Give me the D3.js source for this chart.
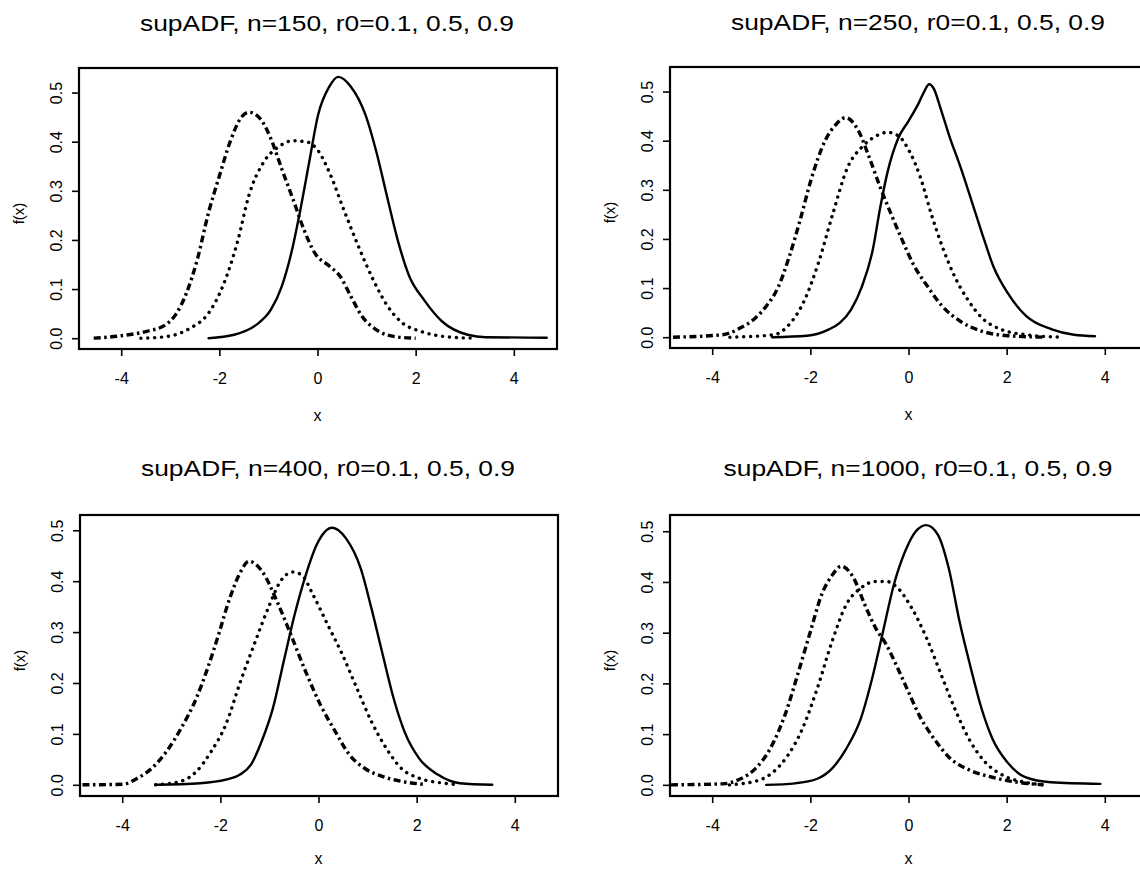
<!DOCTYPE html>
<html>
<head>
<meta charset="utf-8">
<script src="https://cdn.jsdelivr.net/npm/d3@7"></script>
<style>
  body { margin: 0; background: #fff; }
  svg { display: block; font-family: "Liberation Sans", Arial, Helvetica, sans-serif; }
</style>
</head>
<body>
<div id="chart"></div>
<script>
// tick values shared by all four panels
const xTicks = [-4, -2, 0, 2, 4];
const yTicks = [0, 0.1, 0.2, 0.3, 0.4, 0.5];
const titles = [
  "supADF, n=150, r0=0.1, 0.5, 0.9",
  "supADF, n=250, r0=0.1, 0.5, 0.9",
  "supADF, n=400, r0=0.1, 0.5, 0.9",
  "supADF, n=1000, r0=0.1, 0.5, 0.9"
];
const yMax = [0.55, 0.55, 0.53, 0.532];

// densities: [x, f(x)]
// n=150
const n150Solid = [[-2.22,0],[-1.7,0.007],[-1.25,0.027],[-0.95,0.058],[-0.73,0.105],[-0.5,0.188],[-0.36,0.256],[-0.17,0.358],[0.01,0.454],[0.24,0.512],[0.42,0.532],[0.68,0.512],[0.98,0.454],[1.2,0.379],[1.43,0.283],[1.65,0.194],[1.87,0.126],[2.17,0.078],[2.54,0.034],[3.06,0.007],[3.43,0.002],[4.67,0.001]];
const n150Dotted = [[-3.6,0],[-3.1,0.003],[-2.6,0.02],[-2.22,0.051],[-1.93,0.106],[-1.62,0.2],[-1.4,0.29],[-1.1,0.358],[-0.8,0.389],[-0.5,0.402],[-0.2,0.399],[0.01,0.382],[0.24,0.338],[0.53,0.263],[0.83,0.188],[1.13,0.12],[1.43,0.065],[1.73,0.031],[2.1,0.014],[2.62,0.003],[3.2,0]];
const n150DashDot = [[-4.56,0],[-4.0,0.005],[-3.48,0.014],[-3.1,0.027],[-2.89,0.048],[-2.67,0.092],[-2.45,0.16],[-2.22,0.256],[-2.0,0.33],[-1.78,0.4],[-1.55,0.45],[-1.4,0.46],[-1.17,0.447],[-0.95,0.406],[-0.73,0.345],[-0.5,0.283],[-0.28,0.222],[-0.06,0.174],[0.24,0.147],[0.46,0.126],[0.68,0.085],[0.91,0.044],[1.2,0.017],[1.58,0.003],[2.0,0]];
// n=250
const n250Solid = [[-2.78,0],[-2.07,0.003],[-1.62,0.016],[-1.4,0.029],[-1.17,0.056],[-0.95,0.103],[-0.73,0.177],[-0.58,0.262],[-0.43,0.335],[-0.21,0.405],[0.0,0.44],[0.2,0.475],[0.32,0.5],[0.42,0.515],[0.52,0.505],[0.64,0.47],[0.83,0.41],[1.06,0.346],[1.28,0.279],[1.5,0.211],[1.73,0.144],[2.02,0.09],[2.4,0.043],[2.92,0.016],[3.37,0.005],[3.8,0.002]];
const n250Dotted = [[-3.64,0],[-2.74,0.005],[-2.43,0.026],[-2.13,0.073],[-1.84,0.15],[-1.54,0.252],[-1.24,0.346],[-0.95,0.387],[-0.65,0.41],[-0.43,0.417],[-0.21,0.41],[0.01,0.38],[0.24,0.326],[0.46,0.252],[0.69,0.184],[0.91,0.13],[1.21,0.076],[1.5,0.039],[1.88,0.016],[2.4,0.005],[3.15,0]];
const n250DashDot = [[-4.8,0],[-3.79,0.005],[-3.42,0.019],[-3.12,0.039],[-2.9,0.063],[-2.65,0.103],[-2.43,0.164],[-2.21,0.238],[-1.99,0.319],[-1.7,0.4],[-1.47,0.434],[-1.28,0.447],[-1.02,0.42],[-0.8,0.366],[-0.58,0.306],[-0.36,0.252],[-0.13,0.198],[0.09,0.15],[0.39,0.103],[0.69,0.063],[1.06,0.032],[1.5,0.012],[2.03,0.003],[2.78,0]];
// n=400
const n400Solid = [[-3.32,0],[-2.41,0.003],[-1.89,0.01],[-1.6,0.02],[-1.38,0.039],[-1.16,0.085],[-0.93,0.15],[-0.71,0.242],[-0.49,0.333],[-0.26,0.412],[-0.04,0.471],[0.28,0.505],[0.56,0.484],[0.86,0.425],[1.08,0.346],[1.31,0.255],[1.53,0.17],[1.75,0.105],[2.05,0.052],[2.43,0.02],[2.88,0.003],[3.54,0]];
const n400Dotted = [[-3.32,0],[-2.8,0.007],[-2.49,0.026],[-2.19,0.065],[-1.89,0.118],[-1.59,0.203],[-1.29,0.281],[-1.0,0.353],[-0.78,0.399],[-0.52,0.418],[-0.34,0.412],[-0.11,0.373],[0.19,0.314],[0.49,0.255],[0.78,0.19],[1.08,0.124],[1.38,0.072],[1.68,0.033],[2.05,0.013],[2.57,0.003],[2.87,0]];
const n400DashDot = [[-4.81,0],[-3.99,0.001],[-3.69,0.013],[-3.39,0.033],[-3.1,0.065],[-2.8,0.111],[-2.49,0.17],[-2.26,0.229],[-2.04,0.294],[-1.81,0.366],[-1.59,0.418],[-1.42,0.439],[-1.14,0.418],[-0.84,0.359],[-0.56,0.294],[-0.26,0.222],[0.04,0.157],[0.34,0.105],[0.63,0.059],[0.93,0.033],[1.31,0.016],[1.68,0.007],[2.13,0.001]];
// n=1000
const n1000Solid = [[-2.9,0],[-2.31,0.003],[-1.86,0.012],[-1.56,0.032],[-1.27,0.071],[-0.97,0.131],[-0.74,0.21],[-0.52,0.302],[-0.3,0.394],[-0.07,0.46],[0.15,0.5],[0.36,0.512],[0.6,0.493],[0.82,0.427],[1.04,0.322],[1.27,0.23],[1.49,0.15],[1.71,0.091],[2.01,0.045],[2.38,0.015],[2.9,0.005],[3.91,0.002]];
const n1000Dotted = [[-3.65,0],[-3.05,0.009],[-2.76,0.025],[-2.46,0.058],[-2.16,0.111],[-1.86,0.19],[-1.56,0.282],[-1.27,0.355],[-0.97,0.388],[-0.67,0.401],[-0.45,0.401],[-0.22,0.388],[0.07,0.348],[0.37,0.289],[0.67,0.216],[0.97,0.144],[1.27,0.084],[1.56,0.045],[1.94,0.018],[2.38,0.005],[2.75,0]];
const n1000DashDot = [[-4.84,0],[-3.79,0.002],[-3.42,0.012],[-3.12,0.032],[-2.82,0.071],[-2.52,0.137],[-2.22,0.23],[-2.0,0.302],[-1.77,0.375],[-1.55,0.414],[-1.37,0.431],[-1.12,0.408],[-0.89,0.355],[-0.67,0.309],[-0.45,0.276],[-0.22,0.23],[0.0,0.183],[0.22,0.137],[0.52,0.091],[0.82,0.055],[1.27,0.028],[1.71,0.015],[2.23,0.005],[2.75,0]];

const panels = [
  { title: titles[0], yMax: yMax[0], left: 79, top: 68, curves: [n150Solid, n150Dotted, n150DashDot] },
  { title: titles[1], yMax: yMax[1], left: 670, top: 67, curves: [n250Solid, n250Dotted, n250DashDot] },
  { title: titles[2], yMax: yMax[2], left: 80, top: 515, curves: [n400Solid, n400Dotted, n400DashDot] },
  { title: titles[3], yMax: yMax[3], left: 670, top: 515, curves: [n1000Solid, n1000Dotted, n1000DashDot] }
];

const lineStyles = [
  { width: 2.4, dash: null, cap: "round" },
  { width: 3.4, dash: "0.1 6.8", cap: "round" },
  { width: 3.4, dash: "7 3.5 2.5 3.5", cap: "butt" }
];

const plotW = 478, plotH = 281;

const svg = d3.select("#chart").append("svg")
  .attr("width", 1140)
  .attr("height", 870);

panels.forEach((p, i) => {
  const x = d3.scaleLinear().domain([-4.86, 4.88]).range([0, plotW]);
  const y = d3.scaleLinear().domain([-0.022, p.yMax]).range([plotH, 0]);

  const g = svg.append("g").attr("transform", `translate(${p.left},${p.top})`);

  // title, a little stretched like the scanned original
  g.append("text")
    .attr("x", plotW / 2 + 9)
    .attr("y", i < 2 ? -37 : -39)
    .attr("text-anchor", "middle")
    .attr("font-size", 22)
    .attr("textLength", i == 3 ? 389 : 374)
    .attr("lengthAdjust", "spacingAndGlyphs")
    .text(p.title);

  const xAxis = g.append("g")
    .attr("transform", `translate(0,${plotH})`)
    .call(d3.axisBottom(x).tickValues(xTicks).tickSize(7).tickFormat(d => String(d)));
  xAxis.select(".domain").remove();
  xAxis.selectAll("line").attr("stroke", "#000").attr("stroke-width", 1.6);
  xAxis.selectAll("text")
    .attr("y", 24)
    .attr("font-size", 16)
    .attr("font-family", "Liberation Sans, Arial, sans-serif")
    .attr("fill", "#000");

  const yAxis = g.append("g")
    .call(d3.axisLeft(y).tickValues(yTicks).tickSize(7).tickFormat(d3.format(".1f")));
  yAxis.select(".domain").remove();
  yAxis.selectAll("line").attr("stroke", "#000").attr("stroke-width", 1.6);
  yAxis.selectAll("text")
    .attr("transform", "rotate(-90)")
    .attr("x", 0)
    .attr("y", -17)
    .attr("dy", 0)
    .attr("text-anchor", "middle")
    .attr("font-size", 16)
    .attr("font-family", "Liberation Sans, Arial, sans-serif")
    .attr("fill", "#000");

  g.append("text")
    .attr("transform", `translate(-55,${plotH / 2 + 5}) rotate(-90)`)
    .attr("text-anchor", "middle")
    .attr("font-size", 15)
    .text("f(x)");

  g.append("text")
    .attr("x", x(0))
    .attr("y", plotH + (i < 2 ? 72 : 68))
    .attr("text-anchor", "middle")
    .attr("font-size", 16)
    .text("x");

  const line = d3.line()
    .x(d => x(d[0]))
    .y(d => y(d[1]))
    .curve(d3.curveMonotoneX);

  p.curves.forEach((c, k) => {
    const s = lineStyles[k];
    g.append("path")
      .datum(c)
      .attr("fill", "none")
      .attr("stroke", "#000")
      .attr("stroke-width", s.width)
      .attr("stroke-linecap", s.cap)
      .attr("stroke-linejoin", "round")
      .attr("stroke-dasharray", s.dash)
      .attr("d", line);
  });

  g.append("rect")
    .attr("width", plotW)
    .attr("height", plotH)
    .attr("fill", "none")
    .attr("stroke", "#000")
    .attr("stroke-width", 2.2);
});
</script>
</body>
</html>
